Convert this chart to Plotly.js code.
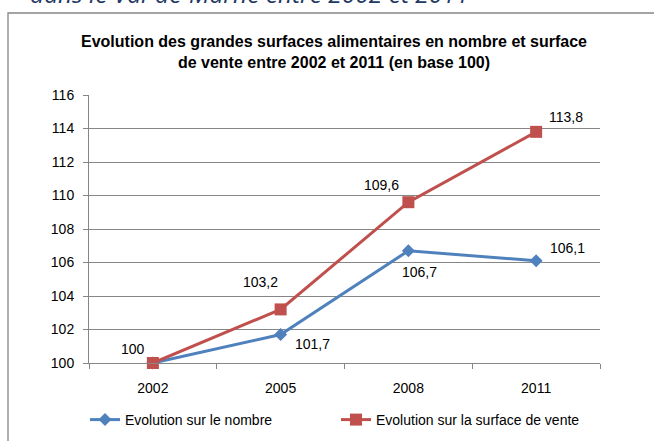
<!DOCTYPE html>
<html>
<head>
<meta charset="utf-8">
<script src="https://cdn.plot.ly/plotly-3.0.1.min.js"></script>
<style>
html,body{margin:0;padding:0;background:#fff;}
#chart{width:654px;height:441px;}
</style>
</head>
<body>
<div id="chart"></div>
<script>
// ---- data ----
var years = ['2002', '2005', '2008', '2011'];
var nombre = [100, 101.7, 106.7, 106.1];
var surface = [100, 103.2, 109.6, 113.8];
var seriesNames = ['Evolution sur le nombre', 'Evolution sur la surface de vente'];
var yTicks = [100, 102, 104, 106, 108, 110, 112, 114, 116];
var chartTitle = 'Evolution des grandes surfaces alimentaires en nombre et surface<br>de vente entre 2002 et 2011 (en base 100)';
var pageHeading = 'dans le Val-de-Marne entre 2002 et 2011';

// which points show a label (blue 2002 hidden behind red 2002)
var showNombre = [false, true, true, true];
var showSurface = [true, true, true, true];

// ---- style ----
var BLUE = '#4F81BD', RED = '#C0504D', GRID = '#868686';
var FONT = 'Liberation Sans, Arial, sans-serif';
var shiftNombre = [[0, 0], [32, -9], [11, -21], [31, 13]];
var shiftSurface = [[-20, 14], [-20, 27], [-27, 17], [30, 15]];

function fmt(v) { return (Math.round(v * 10) / 10).toString().replace('.', ','); }

var annotations = [];
function addLabels(vals, show, shifts) {
  for (var i = 0; i < vals.length; i++) {
    if (!show[i]) continue;
    annotations.push({
      x: i, y: vals[i], xref: 'x', yref: 'y',
      text: fmt(vals[i]), showarrow: false,
      xanchor: 'center', yanchor: 'middle',
      xshift: shifts[i][0], yshift: shifts[i][1],
      font: {family: FONT, size: 14, color: '#000'}
    });
  }
}
addLabels(nombre, showNombre, shiftNombre);
addLabels(surface, showSurface, shiftSurface);

annotations.push({
  xref: 'paper', yref: 'paper', x: (28 - 89) / 511, y: (363 - 12) / 268,
  xanchor: 'left', yanchor: 'bottom', showarrow: false,
  text: '<i>' + pageHeading + '</i>',
  font: {family: 'Open Sans, sans-serif', size: 24.5, color: '#1F3864'}
});

var traces = [
  {x: years, y: nombre, name: seriesNames[0], type: 'scatter', mode: 'lines+markers',
   line: {color: BLUE, width: 3}, marker: {symbol: 'diamond', size: 10, color: BLUE},
   cliponaxis: false},
  {x: years, y: surface, name: seriesNames[1], type: 'scatter', mode: 'lines+markers',
   line: {color: RED, width: 3}, marker: {symbol: 'square', size: 12, color: RED},
   cliponaxis: false}
];

var layout = {
  width: 654, height: 441,
  margin: {l: 89, r: 54, t: 95, b: 78, pad: 0},
  paper_bgcolor: '#fff', plot_bgcolor: '#fff',
  font: {family: FONT, size: 14, color: '#000'},
  title: {
    text: chartTitle, xref: 'paper', x: (334 - 89) / 511, xanchor: 'center',
    yref: 'container', y: 1 - 47 / 441, yanchor: 'top',
    font: {family: 'Liberation Sans Narrow, Arial Narrow, Liberation Sans, sans-serif', size: 16, weight: 'bold', color: '#000'}
  },
  xaxis: {
    type: 'category', range: [-0.5, 3.5], tickson: 'boundaries',
    ticks: 'outside', ticklen: 5, tickcolor: GRID, ticklabelstandoff: 12,
    showline: true, linecolor: GRID, linewidth: 1, showgrid: false, zeroline: false,
    tickfont: {family: FONT, size: 14, color: '#000'}, fixedrange: true
  },
  yaxis: {
    range: [100, 116], tickvals: yTicks, ticktext: yTicks.map(String),
    ticks: 'outside', ticklen: 5, tickcolor: GRID, ticklabelstandoff: 6,
    showline: true, linecolor: GRID, linewidth: 1,
    showgrid: true, gridcolor: GRID, gridwidth: 1, zeroline: false,
    tickfont: {family: FONT, size: 14, color: '#000'}, fixedrange: true
  },
  showlegend: true,
  legend: {
    orientation: 'h', xref: 'container', yref: 'container',
    x: 85 / 654, xanchor: 'left',
    y: 1 - 420 / 441, yanchor: 'middle',
    entrywidth: 206, entrywidthmode: 'pixels',
    font: {family: FONT, size: 14, color: '#000'},
    bgcolor: 'rgba(0,0,0,0)', itemwidth: 30
  },
  annotations: annotations,
  shapes: [{
    type: 'rect', xref: 'paper', yref: 'paper',
    x0: (8 - 89) / 511, x1: (720 - 89) / 511,
    y0: (363 - 13) / 268, y1: (363 - 520) / 268,
    line: {color: GRID, width: 1.3}, fillcolor: 'rgba(0,0,0,0)', layer: 'below'
  }]
};

Plotly.newPlot('chart', traces, layout, {staticPlot: true, displayModeBar: false});
</script>
</body>
</html>
